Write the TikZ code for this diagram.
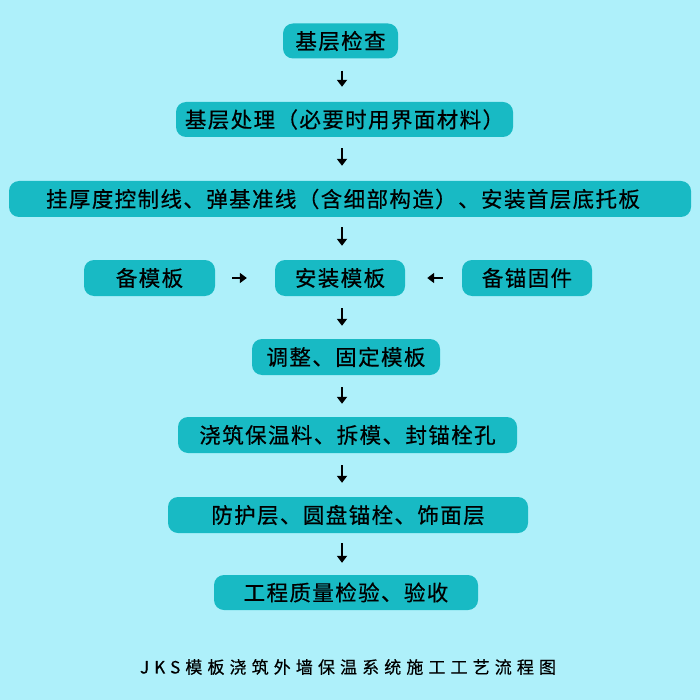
\documentclass[tikz,border=0pt]{standalone}
\usepackage{fontspec}
\usetikzlibrary{arrows.meta}
\newfontfamily\cjk[LetterSpace=6.5,FakeBold=0.5]{Noto Sans CJK SC}
\newfontfamily\cjktitle[LetterSpace=30,FakeBold=0.4]{Noto Sans CJK SC}
\definecolor{bgcyan}{RGB}{174,240,250}
\definecolor{boxteal}{RGB}{24,186,196}
\tikzset{
  stepbox/.style={fill=boxteal, rounded corners=10pt, inner sep=0pt,
    minimum height=35pt, font=\cjk\fontsize{21.5}{24}\selectfont, text=black},
  arr/.style={-{Triangle[length=7pt,width=10pt]}, line width=1.8pt, black},
}
\begin{document}
\begin{tikzpicture}[x=1pt,y=-1pt]
\fill[bgcyan] (0,0) rectangle (700,700);
\useasboundingbox (0,0) rectangle (700,700);
\coordinate (ax) at (342,0);
\node[stepbox, minimum width=115pt] (b1) at (340.5,41) {基层检查};
\node[stepbox, minimum width=337pt] (b2) at (344.5,119.5) {基层处理（必要时用界面材料）};
\node[stepbox, minimum width=682pt, minimum height=36pt] (b3) at (350,199) {挂厚度控制线、弹基准线（含细部构造）、安装首层底托板\hspace*{14pt}};
\node[stepbox, minimum width=131pt, minimum height=36pt] (b4a) at (149.5,278) {备模板};
\node[stepbox, minimum width=130pt, minimum height=36pt] (b4) at (340,278) {安装模板};
\node[stepbox, minimum width=130pt, minimum height=36pt] (b4b) at (527,278) {备锚固件};
\node[stepbox, minimum width=188pt, minimum height=36pt] (b5) at (346,357) {调整、固定模板};
\node[stepbox, minimum width=339pt, minimum height=36pt] (b6) at (347.5,435) {浇筑保温料、拆模、封锚栓孔};
\node[stepbox, minimum width=360pt, minimum height=36pt] (b7) at (348,515) {防护层、圆盘锚栓、饰面层};
\node[stepbox, minimum width=264pt] (b8) at (346,592.5) {工程质量检验、验收};
\node[font=\cjktitle\fontsize{17}{20}\selectfont, inner sep=0pt] (title) at (348,667) {JKS模板浇筑外墙保温系统施工工艺流程图};
\draw[arr, shorten <=12pt, shorten >=15pt] (b1.south -| ax) -- (b2.north -| ax);
\draw[arr, shorten <=11pt, shorten >=15pt] (b2.south -| ax) -- (b3.north -| ax);
\draw[arr, shorten <=10pt, shorten >=14pt] (b3.south -| ax) -- (b4.north -| ax);
\draw[arr, shorten <=12pt, shorten >=13pt] (b4.south -| ax) -- (b5.north -| ax);
\draw[arr, shorten <=12pt, shorten >=13pt] (b5.south -| ax) -- (b6.north -| ax);
\draw[arr, shorten <=12pt, shorten >=14pt] (b6.south -| ax) -- (b7.north -| ax);
\draw[arr, shorten <=10pt, shorten >=12pt] (b7.south -| ax) -- (b8.north -| ax);
\draw[arr, shorten <=17pt, shorten >=28pt] (b4a.east) -- (b4.west);
\draw[arr, shorten <=19pt, shorten >=22pt] (b4b.west) -- (b4.east);
\end{tikzpicture}
\end{document}
